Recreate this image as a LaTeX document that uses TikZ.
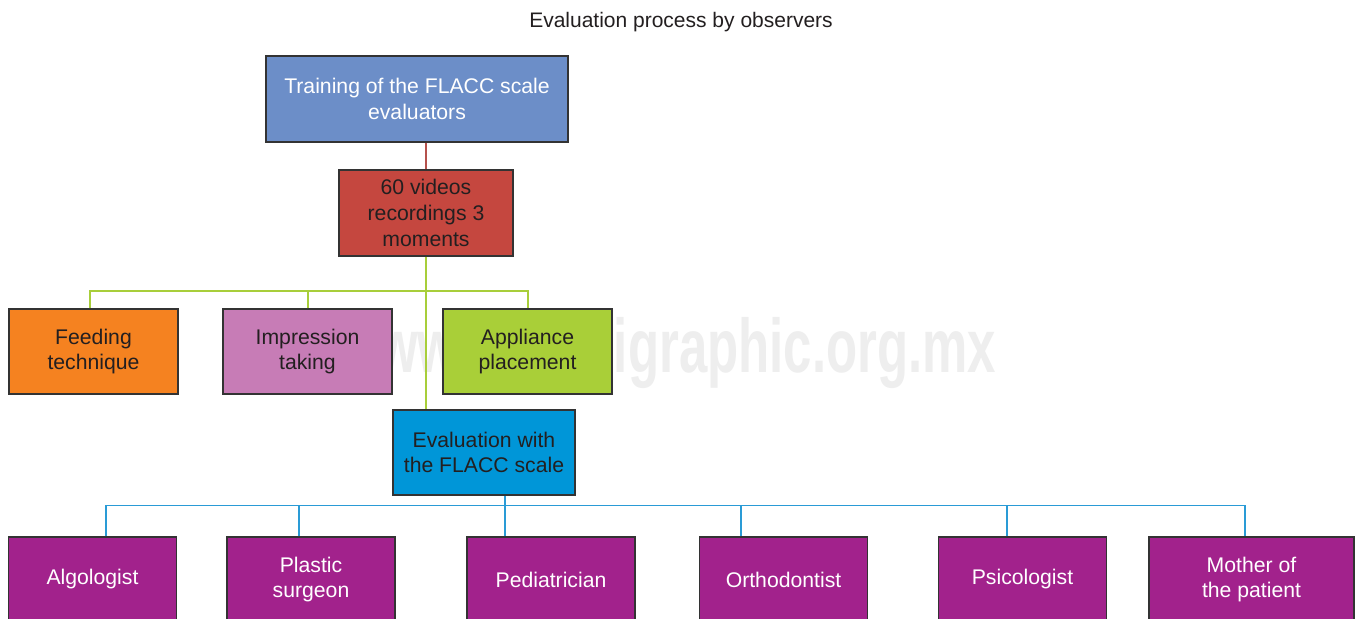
\documentclass[tikz,border=0pt]{standalone}
\usepackage{fontspec}
\setmainfont{Liberation Sans}
\definecolor{cTrain}{HTML}{6C8EC8}
\definecolor{cVid}{HTML}{C5473F}
\definecolor{cFeed}{HTML}{F58220}
\definecolor{cImp}{HTML}{C77CB6}
\definecolor{cApp}{HTML}{A9CF38}
\definecolor{cEval}{HTML}{0096D8}
\definecolor{cObs}{HTML}{A2228C}
\definecolor{cDark}{HTML}{231F20}
\definecolor{cRedLine}{HTML}{B5514C}
\definecolor{cGreenLine}{HTML}{A8CE3A}
\definecolor{cBlueLine}{HTML}{2A9BD6}
\definecolor{cWater}{HTML}{EEEEEE}
\tikzset{
  box/.style={draw=black!80, line width=1.5pt, inner sep=0pt, align=center,
    font=\fontsize{21.2}{25.8}\selectfont, text=cDark},
  obs/.style={box, fill=cObs, text=white, minimum width=168pt, minimum height=85pt},
  redline/.style={draw=cRedLine, line width=1.5pt},
  greenline/.style={draw=cGreenLine, line width=1.5pt},
  blueline/.style={draw=cBlueLine, line width=1.5pt},
}
\begin{document}
\begin{tikzpicture}[x=1pt,y=-1pt]
\clip (0,0) rectangle (1356,618);
\fill[white] (0,0) rectangle (1356,618);
% watermark
\node[anchor=base, text=cWater, inner sep=0pt, font=\fontsize{76}{76}\bfseries\selectfont] (wm) at (687,372) {\scalebox{0.67}[1]{www.medigraphic.org.mx}};
% title
\node[font=\fontsize{21}{24}\selectfont, text=cDark] (title) at (681,22.5) {Evaluation process by observers};
% boxes
\node[box, fill=cTrain, text=white, minimum width=302pt, minimum height=86pt] (train) at (417,99) {Training of the FLACC scale\\evaluators};
\node[box, fill=cVid, minimum width=174pt, minimum height=86pt] (vid) at (426,213) {60 videos\\recordings 3\\moments};
\node[box, fill=cFeed, minimum width=169pt, minimum height=85pt] (feed) at (93.5,351.5) {Feeding\\technique};
\node[box, fill=cImp, minimum width=169pt, minimum height=85pt] (imp) at (307.5,351.5) {Impression\\taking};
\node[box, fill=cApp, minimum width=169pt, minimum height=85pt] (appl) at (527.5,351.5) {Appliance\\placement};
\node[box, fill=cEval, minimum width=182pt, minimum height=85pt] (eval) at (484,452.5) {Evaluation with\\the FLACC scale};
\node[obs] (alg) at (92.5,579.5) {Algologist};
\node[obs] (pla) at (311,579.5) {Plastic\\surgeon};
\node[obs] (ped) at (551,579.5) {Pediatrician};
\node[obs] (ort) at (783.5,579.5) {Orthodontist};
\node[obs] (psi) at (1022.5,579.5) {Psicologist};
\node[obs, minimum width=205pt] (mot) at (1251.5,579.5) {Mother of\\the patient};
% connector points
\coordinate (gbus) at (0,291);
\coordinate (bbus) at (0,505.5);
\coordinate (bA) at ([xshift=13.5pt]alg.north);
\coordinate (bP) at ([xshift=-12pt]pla.north);
\coordinate (bD) at ([xshift=-46pt]ped.north);
\coordinate (bO) at ([xshift=-42.5pt]ort.north);
\coordinate (bS) at ([xshift=-15.5pt]psi.north);
\coordinate (bM) at ([xshift=-6.5pt]mot.north);
\coordinate (bE) at ([xshift=21pt]eval.south);
\coordinate (gF) at ([xshift=-3.5pt]feed.north);
\coordinate (gI) at ([xshift=0.5pt]imp.north);
\coordinate (gA) at ([xshift=0.5pt]appl.north);
% connectors
\draw[redline] (vid.north) -- (vid.north |- train.south);
\draw[greenline] (vid.south) -- (vid.south |- eval.north);
\draw[greenline] (gF) -- (gF |- gbus) -- (gA |- gbus) -- (gA);
\draw[greenline] (gI) -- (gI |- gbus);
\draw[blueline] (bE) -- (bE |- bbus);
\draw[blueline] (bA) -- (bA |- bbus) -- (bM |- bbus) -- (bM);
\foreach \p in {bP,bD,bO,bS} \draw[blueline] (\p) -- (\p |- bbus);
\end{tikzpicture}
\end{document}
